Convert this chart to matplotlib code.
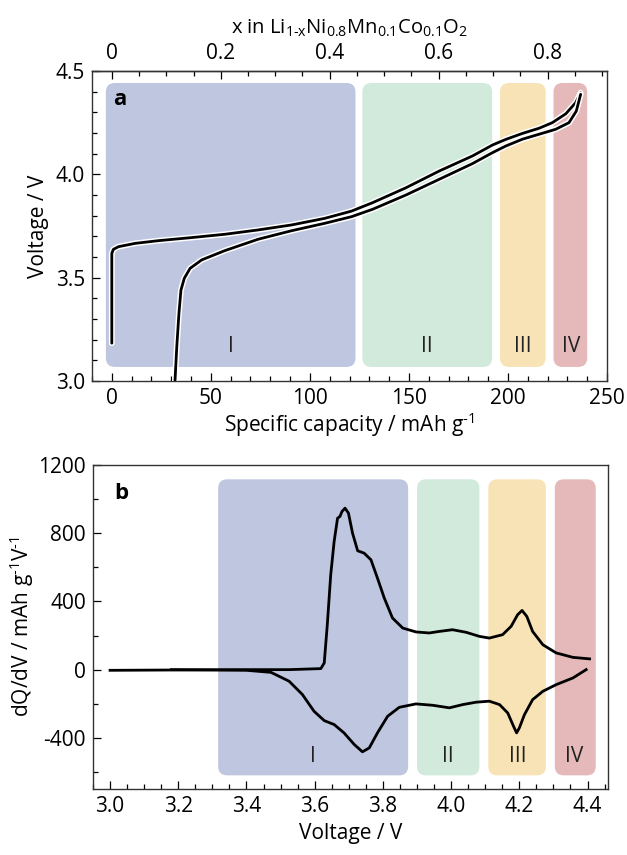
import numpy as np
import matplotlib
matplotlib.use('Agg')
import matplotlib.pyplot as plt
from matplotlib.patches import FancyBboxPatch
from matplotlib.ticker import MultipleLocator, FixedLocator, FormatStrFormatter, FuncFormatter
import matplotlib.patheffects as pe

plt.rcParams['font.family'] = ['Open Sans', 'DejaVu Sans']
plt.rcParams['mathtext.fontset'] = 'custom'
plt.rcParams['mathtext.rm'] = 'Open Sans'
plt.rcParams['mathtext.it'] = 'Open Sans'
plt.rcParams['axes.unicode_minus'] = False

# panel a: voltage profile (capacity mAh/g, voltage V)
charge_cap = [0, 0, 0.8, 3.4, 11.8, 23.5, 40.3, 57.1, 73.9, 90.7, 107.5, 121, 131.7, 148.5, 165.3, 182.1,
              192.2, 198.9, 207.3, 215.7, 222.4, 229.2, 234.2, 236.7]
charge_v = [3.183, 3.618, 3.637, 3.650, 3.666, 3.679, 3.694, 3.710, 3.731, 3.755, 3.787, 3.822, 3.863, 3.935, 4.016, 4.089,
            4.142, 4.169, 4.198, 4.223, 4.25, 4.293, 4.347, 4.395]
dis_cap = [236.7, 234.5, 230.8, 224.1, 215.7, 207.3, 198.9, 192.2, 182.1, 165.3, 148.5, 131.7, 121, 107.5,
           90.7, 73.9, 57.1, 45.4, 39.5, 36.6, 34.9, 33.9, 32.8, 31.9]
dis_v = [4.387, 4.306, 4.25, 4.218, 4.194, 4.170, 4.137, 4.105, 4.052, 3.976, 3.90, 3.831, 3.795, 3.763,
         3.727, 3.686, 3.631, 3.586, 3.545, 3.497, 3.44, 3.328, 3.166, 3.0]

# panel b: differential capacity (voltage V, dQ/dV)
chg_volt = [3.0, 3.2, 3.4, 3.525, 3.618, 3.628, 3.637, 3.647, 3.657, 3.667, 3.674, 3.680, 3.689, 3.699, 3.711,
            3.726, 3.745, 3.765, 3.784, 3.804, 3.828, 3.858, 3.897, 3.936, 3.965, 4.004, 4.044, 4.083, 4.112,
            4.151, 4.176, 4.195, 4.208, 4.222, 4.239, 4.269, 4.308, 4.357, 4.406]
chg_dqdv = [-4, -2, 0, 0, 6, 39, 264, 556, 751, 888, 898, 927, 947, 918, 800,
            697, 683, 644, 537, 420, 303, 244, 221, 215, 224, 234, 219, 195, 185,
            205, 254, 322, 347, 312, 224, 146, 98, 72, 63]
dis_volt = [4.396, 4.357, 4.308, 4.269, 4.239, 4.215, 4.200, 4.192, 4.183, 4.166, 4.142, 4.112, 4.073, 4.034,
            3.995, 3.946, 3.897, 3.848, 3.814, 3.784, 3.760, 3.740, 3.716, 3.686, 3.657, 3.628, 3.598, 3.564,
            3.525, 3.472, 3.40, 3.3, 3.18]
dis_dqdv = [0, -49, -88, -127, -176, -264, -342, -371, -332, -254, -205, -185, -191, -205,
            -224, -209, -201, -221, -273, -371, -459, -482, -439, -371, -322, -299, -244, -146,
            -68, -16, -4, -2, 0]

region_names = ['I', 'II', 'III', 'IV']
region_colors = ['#bec6e0', '#d1eadb', '#f8e3b6', '#e5b9b9']
regions_a = [(-3, 123), (126.5, 192), (196, 219), (223, 240)]
regions_b = [(3.317, 3.874), (3.90, 4.083), (4.109, 4.278), (4.304, 4.424)]
label_x_a = [60, 159, 207.7, 232]
label_x_b = [3.596, 3.991, 4.195, 4.361]

W, H = 627, 855
fig = plt.figure(figsize=(W / 100, H / 100), dpi=100)
ax1 = fig.add_axes([92 / W, 1 - 381 / H, 515 / W, 310 / H])
ax2 = fig.add_axes([93 / W, 1 - 789 / H, 515 / W, 324 / H])

ax1.set_xlim(-10, 250)
ax1.set_ylim(3.0, 4.5)
ax2.set_xlim(2.95, 4.46)
ax2.set_ylim(-700, 1200)


def add_regions(ax, spans, y0, y1, radius_px):
    x0l, x1l = ax.get_xlim()
    y0l, y1l = ax.get_ylim()
    bb = ax.get_position()
    xpp = (x1l - x0l) / (bb.width * W)
    ypp = (y1l - y0l) / (bb.height * H)
    for (a, b), c in zip(spans, region_colors):
        p = FancyBboxPatch((a, y0), b - a, y1 - y0,
                           boxstyle='round,pad=0,rounding_size=%f' % (radius_px * xpp),
                           mutation_aspect=ypp / xpp, fc=c, ec='none', zorder=0)
        ax.add_patch(p)


add_regions(ax1, regions_a, 3.068, 4.442, 9)
add_regions(ax2, regions_b, -620, 1116, 9)

halo = [pe.withStroke(linewidth=4.2, foreground='white')]
ax1.plot(charge_cap, charge_v, color='black', lw=2, zorder=3, path_effects=halo,
         solid_joinstyle='round', solid_capstyle='round')
ax1.plot(dis_cap, dis_v, color='black', lw=2, zorder=3, path_effects=halo,
         solid_joinstyle='round', solid_capstyle='round')
ax2.plot(chg_volt, chg_dqdv, color='black', lw=2, zorder=3, solid_joinstyle='round')
ax2.plot(dis_volt, dis_dqdv, color='black', lw=2, zorder=3, solid_joinstyle='round')

fs = 15
for name, x in zip(region_names, label_x_a):
    ax1.text(x, 3.165, name, ha='center', va='center', fontsize=fs, color='#222222')
for name, x in zip(region_names, label_x_b):
    ax2.text(x, -511, name, ha='center', va='center', fontsize=fs, color='#222222')

ax1.text(4, 4.36, 'a', fontsize=16, fontweight='bold', ha='center', va='center')
ax2.text(3.032, 1030, 'b', fontsize=16, fontweight='bold', ha='center', va='center')

# axis ticks
ax1.xaxis.set_major_locator(MultipleLocator(50))
ax1.xaxis.set_minor_locator(MultipleLocator(10))
ax1.yaxis.set_major_locator(MultipleLocator(0.5))
ax1.yaxis.set_minor_locator(MultipleLocator(0.1))
ax1.yaxis.set_major_formatter(FormatStrFormatter('%.1f'))
ax1.tick_params(which='both', direction='in', top=False, right=False, labelsize=fs, width=0.9, pad=5)
ax1.tick_params(which='major', length=6)
ax1.tick_params(which='minor', length=3.5)
ax1.set_xlabel(r'Specific capacity / mAh g$^{\text{-}1}$', fontsize=fs, labelpad=1)
ax1.set_ylabel('Voltage / V', fontsize=fs, labelpad=5)

top = ax1.secondary_xaxis('top', functions=(lambda c: c / 275.0, lambda x: x * 275.0))
top.xaxis.set_major_locator(FixedLocator([0, 0.2, 0.4, 0.6, 0.8]))
top.xaxis.set_minor_locator(FixedLocator(np.arange(0, 0.91, 0.05)))
top.xaxis.set_major_formatter(FuncFormatter(lambda v, p: '%g' % round(v, 2)))
top.tick_params(which='both', direction='in', labelsize=fs, width=0.9, pad=5)
top.tick_params(which='major', length=6)
top.tick_params(which='minor', length=3.5)
top.set_xlabel(r'x in Li$_{1\text{-}x}$Ni$_{0.8}$Mn$_{0.1}$Co$_{0.1}$O$_2$', fontsize=14.5, labelpad=7)

ax2.xaxis.set_major_locator(MultipleLocator(0.2))
ax2.xaxis.set_minor_locator(MultipleLocator(0.05))
ax2.xaxis.set_major_formatter(FormatStrFormatter('%.1f'))
ax2.yaxis.set_major_locator(MultipleLocator(400))
ax2.yaxis.set_minor_locator(MultipleLocator(200))
ax2.tick_params(which='both', direction='in', top=False, right=False, labelsize=fs, width=0.9, pad=5)
ax2.tick_params(which='major', length=6)
ax2.tick_params(which='minor', length=3.5)
ax2.set_xlabel('Voltage / V', fontsize=fs, labelpad=4)
ax2.set_ylabel(r'dQ/dV / mAh g$^{\text{-}1}$V$^{\text{-}1}$', fontsize=fs, labelpad=2)

for ax in (ax1, ax2):
    for s in ax.spines.values():
        s.set_linewidth(1.0)
        s.set_color('#333333')
    ax.set_facecolor('white')
for s in top.spines.values():
    s.set_linewidth(1.0)
    s.set_color('#333333')

fig.savefig('out.png', dpi=100)
